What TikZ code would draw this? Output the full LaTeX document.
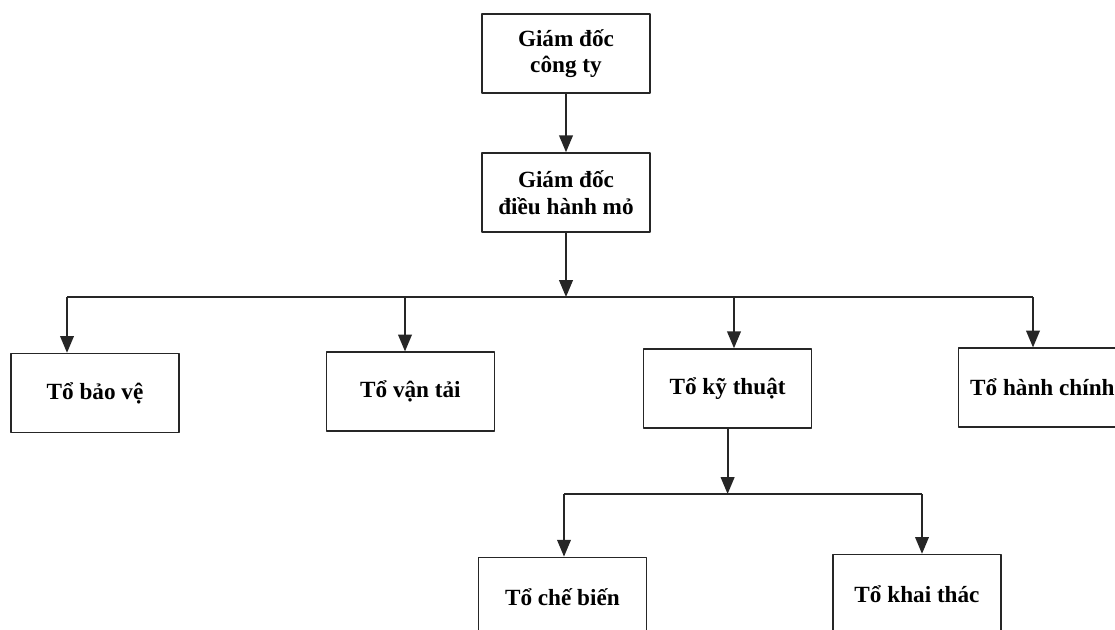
\documentclass[tikz,border=0pt]{standalone}
\usepackage{fontspec}
\setmainfont{Liberation Serif}
\usetikzlibrary{arrows.meta}
\tikzset{hop/.style={draw=black!85, line width=1.1pt, minimum width=4.2cm, minimum height=1.97cm, align=center, inner sep=0pt}}
\begin{document}
\begin{tikzpicture}[>={Triangle[length=4.2mm,width=3.4mm]}, font=\fontsize{16.5}{19}\selectfont\bfseries, line join=round]
			\useasboundingbox (0,0) rectangle (27.875,-15.725);
			\clip (0,0) rectangle (27.875,-15.725);
			\def\ya{-7.425} \def\yb{-12.35} % hai thanh ngang
			\node[hop] (gdct) at (14.15,-1.34) {Giám đốc\\ công ty};
			\node[hop] (gddh) at (14.15,-4.81) {Giám đốc\\điều hành mỏ};
			\node[hop] (tbv) at (2.375,-9.825) {Tổ bảo vệ};
			\node[hop] (tvt) at (10.26,-9.79) {Tổ vận tải};
			\node[hop] (tkt) at (18.19,-9.71) {Tổ kỹ thuật};
			\node[hop] (thc) at (26.06,-9.69) {Tổ hành chính};
			\node[hop] (tcb) at (14.06,-14.92) {Tổ chế biến};
			\node[hop] (tkh) at (22.925,-14.85) {Tổ khai thác};
			\coordinate (m1) at (14.15,\ya);
			\coordinate (b1) at (1.675,\ya); \coordinate (b2) at (10.125,\ya);
			\coordinate (b3) at (18.35,\ya); \coordinate (b4) at (25.825,\ya);
			\coordinate (m2) at (18.19,\yb);
			\coordinate (c1) at (14.1,\yb); \coordinate (c2) at (23.05,\yb);
			\begin{scope}[draw=black!85, line width=1.3pt]
			\draw[->] (gdct) -- (gddh);
			\draw[->] (gddh) -- (m1);
			\draw (b1) -- (b4);%thanh 1
			\foreach \b/\n in {b1/tbv, b2/tvt, b3/tkt, b4/thc}{
				\draw[->] (\b) -- (\b |- \n.north);
			}
			\draw[->] (tkt) -- (m2);
			\draw (c1) -- (c2);%thanh 2
			\foreach \b/\n in {c1/tcb, c2/tkh}{
				\draw[->] (\b) -- (\b |- \n.north);
			}
			\end{scope}
	\end{tikzpicture}
\end{document}
